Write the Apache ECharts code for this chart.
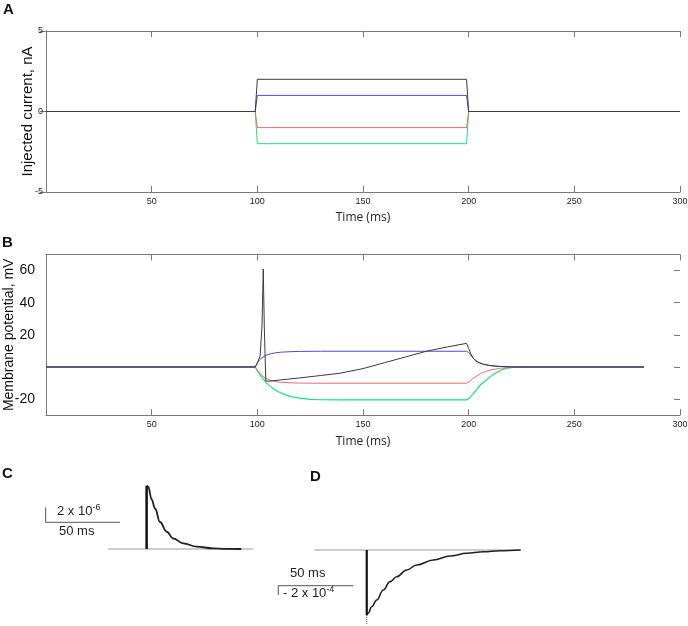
<!DOCTYPE html>
<html>
<head>
<meta charset="utf-8">
<script src="https://cdn.jsdelivr.net/npm/echarts@6/dist/echarts.min.js"></script>
<style>
  html, body { margin: 0; padding: 0; background: #fff; }
  #chart { width: 688px; height: 626px; }
</style>
</head>
<body>
<div id="chart"></div>
<script>
// Panel A: injected current pulses (t ms, nA)
const currentBlack = [[0, 0], [99, 0], [100, 2], [199, 2], [200, 0], [300, 0]];
const currentBlue = [[0, 0], [99, 0], [100, 1], [199, 1], [200, 0], [300, 0]];
const currentRed = [[0, 0], [99, 0], [100, -1], [199, -1], [200, 0], [300, 0]];
const currentGreen = [[0, 0], [99, 0], [100, -2], [199, -2], [200, 0], [300, 0]];

// Panel B: membrane potential (t ms, mV)
const vBlack = [[0, 0], [99, 0], [100, 2.5], [101.3, 6.8], [102.2, 25], [102.8, 61], [103.3, 25], [104, -8.7],
  [106, -8.8], [110, -8.2], [120, -6.8], [130, -5.3], [139, -3.9], [150, -1], [160, 2.6], [170, 6.2],
  [180, 9.8], [190, 12.5], [199, 14.7], [200, 11.5], [201, 8.3], [202, 5.8], [203, 4.4], [204, 3.4],
  [205, 2.7], [207, 1.7], [210, 0.9], [214, 0.4], [218, 0.15], [223, 0], [283, 0]];
const vBlue = [[0, 0], [99, 0], [100, 2.5], [101, 4.3], [102, 5.6], [104, 7.2], [106, 8.1], [108, 8.7],
  [111, 9.2], [115, 9.5], [120, 9.7], [130, 9.8], [199, 9.8], [200, 9], [201, 7.5], [202, 5.6], [203, 4.3],
  [204, 3.3], [205, 2.6], [207, 1.7], [210, 0.9], [214, 0.4], [218, 0.15], [223, 0], [283, 0]];
const vRed = [[0, 0], [99, 0], [100, -2], [101, -3.6], [102, -5], [104, -7], [106, -8.2], [108, -8.9],
  [111, -9.5], [115, -9.8], [120, -10], [130, -10.1], [199, -10.1], [200, -9.3], [202, -7.2], [204, -5.5],
  [206, -3.9], [208, -2.8], [211, -1.7], [215, -0.8], [220, -0.3], [225, -0.1], [230, 0], [283, 0]];
const vGreen = [[0, 0], [99, 0], [100, -2.3], [102, -6.2], [104, -9.4], [106, -11.9], [108, -13.8],
  [110, -15.4], [113, -17.2], [116, -18.4], [120, -19.4], [125, -20.1], [130, -20.4], [140, -20.5],
  [199, -20.5], [200, -19.8], [201, -18.5], [202, -17], [203, -15.3], [204, -13.6], [205, -12],
  [206, -10.6], [208, -8.6], [210, -6.3], [212, -4.4], [214, -2.9], [216, -1.6], [218, -0.8],
  [221, -0.3], [225, -0.1], [230, 0], [283, 0]];

// Panel C: trace in units of 1e-6 (t ms)
const baseC = [[0, 0], [98.2, 0]];
const spikeC = [[26.1, 0], [26.1, 8.44]];
const decayC = [[26.1, 8.44], [27.2, 8.3], [29.5, 6.6], [31.8, 5.4], [35.1, 3.6], [39.7, 2.3], [44.1, 1.4],
  [50.9, 0.76], [59.9, 0.31], [71.1, 0.09], [80, 0.02], [90, 0]];
const scaleC = [[-42.1, 5.56], [-42.1, 3.56], [8.1, 3.56]];

// Panel D: trace in units of 1e-4 (t ms)
const baseD = [[0, 0], [138.5, 0]];
const spikeD = [[35.2, 0], [35.2, -14]];
const dotD = [[35.2, -14], [35.2, -15.9]];
const decayD = [[35.2, -14], [36.2, -13.6], [38.5, -12.2], [41.9, -10.75], [46.3, -8.6], [50.8, -6.8],
  [55.3, -5.74], [62, -4.3], [68.7, -3.23], [79.9, -2.15], [91.1, -1.29], [102.3, -0.71], [113.4, -0.37],
  [124.6, -0.15], [138.5, 0]];
const scaleD = [[26.2, -7.68], [-24.2, -7.68], [-24.2, -9.68]];

const chart = echarts.init(document.getElementById('chart'));

const axisGray = '#7a7a7a';
const col = { black: '#3a3a3a', blue: '#4b4bd2', red: '#ea6c6c', green: '#1ee07c' };

// px per mV in panel B, used to place the tick overlay grid (-20..60)
const bTop = 254.5, bHeight = 160.7, bPx = bHeight / 100;

function timeAxis(gridIndex, position, showLabel, showName) {
  return {
    type: 'value', gridIndex, position, min: 0, max: 300, interval: 50,
    axisLine: { show: true, onZero: false, lineStyle: { color: axisGray } },
    axisTick: { show: true, inside: true, length: 6, lineStyle: { color: axisGray } },
    axisLabel: {
      show: showLabel, margin: 5, fontSize: 9, color: '#222', fontFamily: 'Liberation Sans',
      formatter: v => (v === 0 ? '' : v)
    },
    splitLine: { show: false },
    name: showName ? 'Time (ms)' : '', nameLocation: 'middle', nameGap: 20, nameMoveOverlap: false,
    nameTextStyle: { fontSize: 12, color: '#222', fontFamily: 'Open Sans' }
  };
}

function line(name, data, color, xi, yi, width, extra) {
  return Object.assign({
    name, type: 'line', data, xAxisIndex: xi, yAxisIndex: yi, showSymbol: false, symbol: 'none',
    lineStyle: { color, width: width || 1 }, animation: false, silent: true
  }, extra || {});
}

const smoothCurve = { smooth: 0.4, smoothMonotone: 'x' };

const option = {
  animation: false,
  grid: [
    { left: 46, top: 31, width: 634, height: 161, outerBoundsMode: 'none' },
    { left: 46, top: bTop, width: 634, height: bHeight, outerBoundsMode: 'none' },
    { left: 39.9, top: 481.5, width: 216.1, height: 75, outerBoundsMode: 'none' },
    { left: 269.6, top: 540.7, width: 260.75, height: 83.7, outerBoundsMode: 'none' },
    { left: 46, top: bTop + 10 * bPx, width: 634, height: 80 * bPx, outerBoundsMode: 'none' }
  ],
  xAxis: [
    timeAxis(0, 'bottom', true, true),
    timeAxis(0, 'top', false, false),
    timeAxis(1, 'bottom', true, true),
    timeAxis(1, 'top', false, false),
    { type: 'value', gridIndex: 2, min: -46, max: 100, show: false },
    { type: 'value', gridIndex: 3, min: -30, max: 145, show: false },
    { type: 'value', gridIndex: 4, min: 0, max: 300, show: false }
  ],
  yAxis: [
    {
      type: 'value', gridIndex: 0, min: -5, max: 5, interval: 5, position: 'left',
      axisLine: { show: true, lineStyle: { color: axisGray } },
      axisTick: { show: true, inside: true, length: 6, lineStyle: { color: axisGray } },
      axisLabel: { margin: 3, fontSize: 9, color: '#222', fontFamily: 'Liberation Sans' },
      splitLine: { show: false },
      name: 'Injected current, nA', nameLocation: 'middle', nameGap: 11, nameMoveOverlap: false,
      nameTextStyle: { fontSize: 15, color: '#111', fontFamily: 'Liberation Sans' }
    },
    {
      type: 'value', gridIndex: 0, min: -5, max: 5, interval: 5, position: 'right',
      axisLine: { show: true, lineStyle: { color: axisGray } },
      axisTick: { show: true, inside: true, length: 6, lineStyle: { color: axisGray } },
      axisLabel: { show: false }, splitLine: { show: false }
    },
    {
      type: 'value', gridIndex: 1, min: -30, max: 70, interval: 10, position: 'left',
      axisLine: { show: true, lineStyle: { color: axisGray } },
      axisTick: { show: false }, axisLabel: { show: false }, splitLine: { show: false },
      name: 'Membrane potential, mV', nameLocation: 'middle', nameGap: 30, nameMoveOverlap: false,
      nameTextStyle: { fontSize: 14, color: '#111', fontFamily: 'Liberation Sans' }
    },
    {
      type: 'value', gridIndex: 1, min: -30, max: 70, interval: 10, position: 'right',
      axisLine: { show: true, lineStyle: { color: axisGray } },
      axisTick: { show: false }, axisLabel: { show: false }, splitLine: { show: false }
    },
    { type: 'value', gridIndex: 2, min: -1, max: 9, show: false },
    { type: 'value', gridIndex: 3, min: -16, max: 2, show: false },
    {
      type: 'value', gridIndex: 4, min: -20, max: 60, interval: 20, position: 'left',
      axisLine: { show: false }, axisTick: { show: false }, splitLine: { show: false },
      axisLabel: { margin: 11, fontSize: 14, color: '#111', fontFamily: 'Liberation Sans',
        formatter: v => (v === 0 ? '' : v) }
    },
    {
      type: 'value', gridIndex: 4, min: -20, max: 60, interval: 20, position: 'right',
      axisLine: { show: false }, axisLabel: { show: false }, splitLine: { show: false },
      axisTick: { show: true, inside: true, length: 6, lineStyle: { color: axisGray } }
    }
  ],
  graphic: [
    { type: 'text', left: 3, top: 2, style: { text: 'A', font: 'bold 15px "Liberation Sans"', fill: '#111' } },
    { type: 'text', left: 2, top: 235, style: { text: 'B', font: 'bold 15px "Liberation Sans"', fill: '#111' } },
    { type: 'text', left: 2, top: 466, style: { text: 'C', font: 'bold 15px "Liberation Sans"', fill: '#111' } },
    { type: 'text', left: 310, top: 469, style: { text: 'D', font: 'bold 15px "Liberation Sans"', fill: '#111' } },
    {
      type: 'text', left: 57, top: 503,
      style: {
        text: '{a|2 x 10}{s|-6}', fill: '#222',
        rich: { a: { fontSize: 13, fontFamily: 'Liberation Sans', lineHeight: 16 },
                s: { fontSize: 9, fontFamily: 'Liberation Sans', verticalAlign: 'top', lineHeight: 16 } }
      }
    },
    { type: 'text', left: 59, top: 525, style: { text: '50 ms', font: '13px "Liberation Sans"', fill: '#222' } },
    { type: 'text', left: 290, top: 567, style: { text: '50 ms', font: '13px "Liberation Sans"', fill: '#222' } },
    {
      type: 'text', left: 283, top: 585,
      style: {
        text: '{a|- 2 x 10}{s|-4}', fill: '#222',
        rich: { a: { fontSize: 13, fontFamily: 'Liberation Sans', lineHeight: 16 },
                s: { fontSize: 9, fontFamily: 'Liberation Sans', verticalAlign: 'top', lineHeight: 16 } }
      }
    }
  ],
  series: [
    line('A green', currentGreen, col.green, 0, 0),
    line('A red', currentRed, col.red, 0, 0),
    line('A blue', currentBlue, col.blue, 0, 0),
    line('A black', currentBlack, col.black, 0, 0),
    line('B green', vGreen, col.green, 2, 2, 1.2),
    line('B red', vRed, col.red, 2, 2),
    line('B blue', vBlue, col.blue, 2, 2),
    line('B black', vBlack, col.black, 2, 2),
    line('C base', baseC, '#9a9a9a', 4, 4),
    line('C decay', decayC, '#222', 4, 4, 1.8, smoothCurve),
    line('C spike', spikeC, '#111', 4, 4, 2.5),
    line('C scale', scaleC, '#555', 4, 4),
    line('D base', baseD, '#9a9a9a', 5, 5),
    line('D decay', decayD, '#222', 5, 5, 1.6, smoothCurve),
    line('D spike', spikeD, '#111', 5, 5, 2.2),
    line('D dot', dotD, '#444', 5, 5, 1, { lineStyle: { color: '#444', width: 1, type: [1, 1] } }),
    line('D scale', scaleD, '#555', 5, 5)
  ]
};

chart.setOption(option);
window.addEventListener('resize', () => chart.resize());
</script>
</body>
</html>
